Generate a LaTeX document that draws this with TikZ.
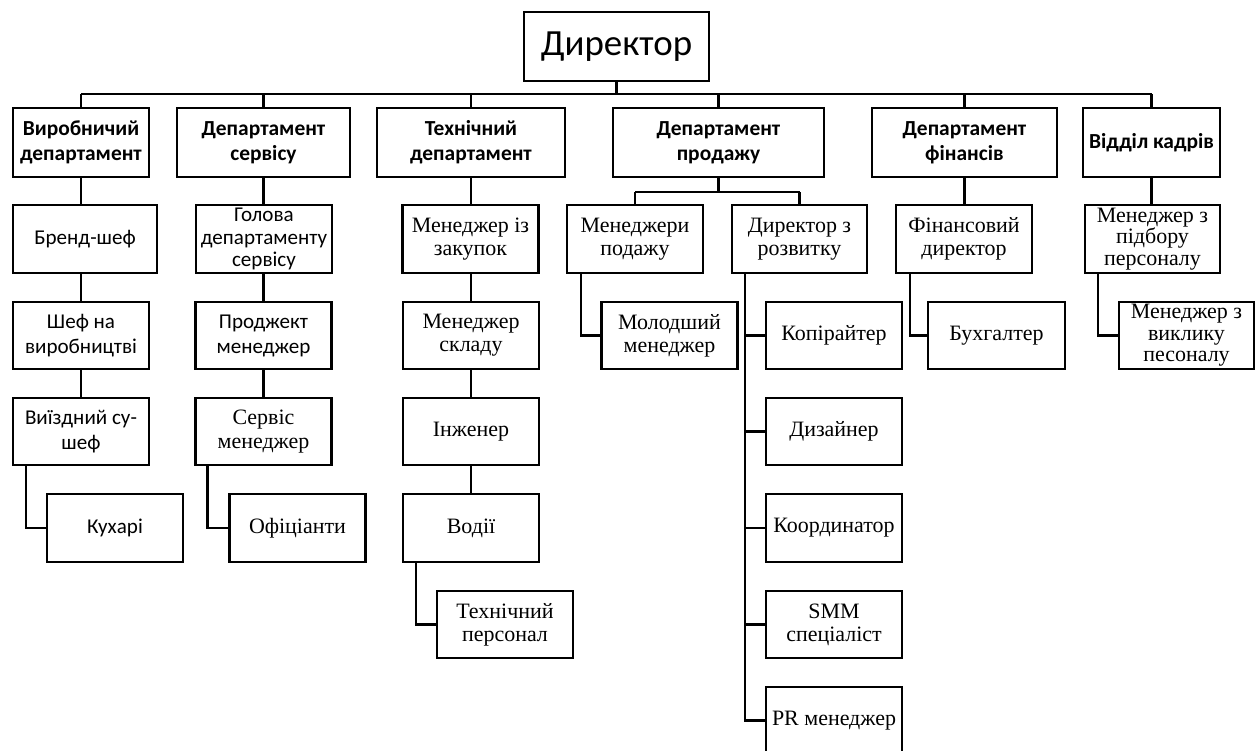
\documentclass[tikz,border=0pt]{standalone}
\usepackage{fontspec}
\setmainfont{Liberation Serif}
\newfontfamily\calibri{Carlito}
\usepackage{tikz}
\usetikzlibrary{positioning}

\tikzset{
  box/.style={draw, rectangle, line width=1.3pt, align=center, inner sep=1pt, minimum width=2.72cm, minimum height=1.34cm},
  dept/.style={box, minimum height=1.38cm, font=\calibri\bfseries\fontsize{12.2}{14.4}\selectfont},
  cbox/.style={box, font=\calibri\fontsize{12}{14.2}\selectfont},
  tbox/.style={box, font=\fontsize{12.5}{13.2}\selectfont},
  link/.style={line width=1.3pt}
}

\begin{document}
\begin{tikzpicture}[x=0.02cm, y=-0.02cm]
		\useasboundingbox (0,0) rectangle (1259,751);
		
		% Director on top
		\node (dir) [box, minimum width=3.7cm, minimum height=1.38cm, font=\calibri\fontsize{21}{24}\selectfont] at (616.5,46.5) {Директор};
		
		% Departments
		\node (vyr) [dept] at (81,142.5) {Виробничий\\департамент};
		\node (serv) [dept, minimum width=3.46cm] at (263.5,142.5) {Департамент\\сервісу};
		\node (tekh) [dept, minimum width=3.76cm] at (471,142.5) {Технічний\\департамент};
		\node (prod) [dept, minimum width=4.22cm] at (718.5,142.5) {Департамент\\продажу};
		\node (fin) [dept, minimum width=3.7cm] at (964.5,142.5) {Департамент\\фінансів};
		\node (kadry) [dept, minimum width=2.74cm] at (1151.5,142.5) {Відділ кадрів};
		
		% Production department
		\node (brend) [cbox, minimum width=2.88cm, minimum height=1.36cm] at (85,239) {Бренд-шеф};
		\node (shef) [cbox] at (81,335.5) {Шеф на\\виробництві};
		\node (sushef) [cbox] at (81,431.5) {Виїздний су-\\шеф};
		\node (kukhari) [cbox, minimum height=1.36cm] at (115,528) {Кухарі};
		
		% Service department
		\node (holova) [cbox, minimum height=1.36cm, font=\calibri\fontsize{12}{12.8}\selectfont] at (264,239) {Голова\\департаменту\\сервісу};
		\node (proj) [cbox] at (263.5,335.5) {Проджект\\менеджер};
		\node (servm) [tbox] at (263.5,431.5) {Сервіс\\менеджер};
		\node (ofits) [tbox, minimum height=1.36cm] at (297.5,528) {Офіціанти};
		
		% Technical department
		\node (zakup) [tbox, minimum height=1.36cm] at (470.5,239) {Менеджер із\\закупок};
		\node (sklad) [tbox] at (471,335.5) {Менеджер\\складу};
		\node (inzh) [tbox] at (471,431.5) {Інженер};
		\node (vodii) [tbox, minimum height=1.36cm] at (471,528) {Водії};
		\node (tpers) [tbox] at (505,624.5) {Технічний\\персонал};
		
		% Sales department
		\node (mprod) [tbox, minimum height=1.36cm] at (635,239) {Менеджери\\подажу};
		\node (rozv) [tbox, minimum width=2.7cm, minimum height=1.36cm] at (799.5,239) {Директор з\\розвитку};
		\node (molod) [tbox] at (669.5,335.5) {Молодший\\менеджер};
		\node (kopi) [tbox] at (834,335.5) {Копірайтер};
		\node (dyz) [tbox] at (834,431.5) {Дизайнер};
		\node (koord) [tbox, minimum height=1.36cm] at (834,528) {Координатор};
		\node (smm) [tbox] at (834,624.5) {SMM\\спеціаліст};
		\node (pr) [tbox] at (834,720.5) {PR менеджер};
		
		% Finance department
		\node (findir) [tbox, minimum height=1.36cm] at (964,239) {Фінансовий\\директор};
		\node (bukh) [tbox, minimum width=2.74cm] at (996.5,335.5) {Бухгалтер};
		
		% HR department
		\node (pidbir) [tbox, minimum width=2.7cm, minimum height=1.36cm, font=\fontsize{12.5}{12.2}\selectfont] at (1152.5,239) {Менеджер з\\підбору\\персоналу};
		\node (vyklyk) [tbox, minimum width=2.7cm, font=\fontsize{12.5}{12.2}\selectfont] at (1186.5,335.5) {Менеджер з\\виклику\\песоналу};
		
		% Director to departments
		\draw[link] (dir.south) -- ++(0,12) coordinate (top);
		\draw[link] (top -| vyr.north) -- (top -| kadry.north);
		\foreach \d in {vyr,serv,tekh,prod,fin,kadry}
			\draw[link] (top -| \d.north) -- (\d.north);
		
		% Straight chains
		\draw[link] (vyr.south) -- (vyr.south |- brend.north);
		\draw[link] (shef.north |- brend.south) -- (shef.north);
		\draw[link] (shef.south) -- (sushef.north);
		\draw[link] (serv.south) -- (serv.south |- holova.north);
		\draw[link] (proj.north |- holova.south) -- (proj.north);
		\draw[link] (proj.south) -- (servm.north);
		\draw[link] (tekh.south) -- (tekh.south |- zakup.north);
		\draw[link] (sklad.north |- zakup.south) -- (sklad.north);
		\draw[link] (sklad.south) -- (inzh.north);
		\draw[link] (inzh.south) -- (vodii.north);
		\draw[link] (fin.south) -- (fin.south |- findir.north);
		\draw[link] (kadry.south) -- (kadry.south |- pidbir.north);
		
		% Sales split
		\draw[link] (prod.south) -- ++(0,14) coordinate (sbus);
		\draw[link] (sbus -| mprod.north) -- (sbus -| rozv.north);
		\draw[link] (sbus -| mprod.north) -- (mprod.north);
		\draw[link] (sbus -| rozv.north) -- (rozv.north);
		
		% Side connectors
		\draw[link] (sushef.south west) ++(14,0) |- (kukhari.west);
		\draw[link] (servm.south west) ++(13,0) |- (ofits.west);
		\draw[link] (vodii.south west) ++(14,0) |- (tpers.west);
		\draw[link] (mprod.south west) ++(15,0) |- (molod.west);
		\foreach \n in {kopi,dyz,koord,smm,pr}
			\draw[link] (rozv.south west) ++(14,0) |- (\n.west);
		\draw[link] (findir.south west) ++(15,0) |- (bukh.west);
		\draw[link] (pidbir.south west) ++(14,0) |- (vyklyk.west);
	\end{tikzpicture}
\end{document}
